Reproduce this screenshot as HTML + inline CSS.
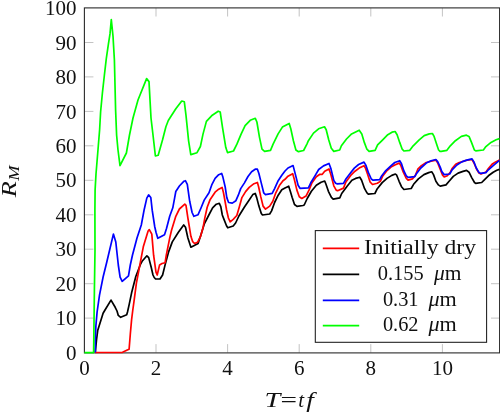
<!DOCTYPE html>
<html><head><meta charset="utf-8"><title>plot</title>
<style>
html,body{margin:0;padding:0;background:#fff;}
body{width:500px;height:413px;overflow:hidden;}
svg{display:block;will-change:transform;}
text{font-family:"Liberation Serif",serif;font-size:21px;fill:#111;}
.c{fill:none;stroke-width:1.7;stroke-linejoin:round;stroke-linecap:butt;}
</style></head><body>
<svg width="500" height="413" viewBox="0 0 500 413">
<rect width="500" height="413" fill="#fff"/>
<g stroke="#9a9a9a" stroke-width="0.6"><line x1="156.0" y1="352.6" x2="156.0" y2="344.1"/><line x1="156.0" y1="8" x2="156.0" y2="16.5"/><line x1="227.6" y1="352.6" x2="227.6" y2="344.1"/><line x1="227.6" y1="8" x2="227.6" y2="16.5"/><line x1="299.2" y1="352.6" x2="299.2" y2="344.1"/><line x1="299.2" y1="8" x2="299.2" y2="16.5"/><line x1="370.8" y1="352.6" x2="370.8" y2="344.1"/><line x1="370.8" y1="8" x2="370.8" y2="16.5"/><line x1="442.4" y1="352.6" x2="442.4" y2="344.1"/><line x1="442.4" y1="8" x2="442.4" y2="16.5"/><line x1="84.4" y1="318.1" x2="93.4" y2="318.1"/><line x1="499.5" y1="318.1" x2="491" y2="318.1"/><line x1="84.4" y1="283.7" x2="93.4" y2="283.7"/><line x1="499.5" y1="283.7" x2="491" y2="283.7"/><line x1="84.4" y1="249.2" x2="93.4" y2="249.2"/><line x1="499.5" y1="249.2" x2="491" y2="249.2"/><line x1="84.4" y1="214.8" x2="93.4" y2="214.8"/><line x1="499.5" y1="214.8" x2="491" y2="214.8"/><line x1="84.4" y1="180.3" x2="93.4" y2="180.3"/><line x1="499.5" y1="180.3" x2="491" y2="180.3"/><line x1="84.4" y1="145.8" x2="93.4" y2="145.8"/><line x1="499.5" y1="145.8" x2="491" y2="145.8"/><line x1="84.4" y1="111.4" x2="93.4" y2="111.4"/><line x1="499.5" y1="111.4" x2="491" y2="111.4"/><line x1="84.4" y1="76.9" x2="93.4" y2="76.9"/><line x1="499.5" y1="76.9" x2="491" y2="76.9"/><line x1="84.4" y1="42.5" x2="93.4" y2="42.5"/><line x1="499.5" y1="42.5" x2="491" y2="42.5"/></g>
<rect x="84.4" y="7.9" width="415.20000000000005" height="345.0" fill="none" stroke="#2a2a2a" stroke-width="1.1"/>
<g><text x="84.4" y="375.2" text-anchor="middle">0</text><text x="156.0" y="375.2" text-anchor="middle">2</text><text x="227.6" y="375.2" text-anchor="middle">4</text><text x="299.2" y="375.2" text-anchor="middle">6</text><text x="370.8" y="375.2" text-anchor="middle">8</text><text x="442.4" y="375.2" text-anchor="middle">10</text><text x="76.5" y="359.7" text-anchor="end">0</text><text x="76.5" y="325.2" text-anchor="end">10</text><text x="76.5" y="290.8" text-anchor="end">20</text><text x="76.5" y="256.3" text-anchor="end">30</text><text x="76.5" y="221.9" text-anchor="end">40</text><text x="76.5" y="187.4" text-anchor="end">50</text><text x="76.5" y="152.9" text-anchor="end">60</text><text x="76.5" y="118.5" text-anchor="end">70</text><text x="76.5" y="84.0" text-anchor="end">80</text><text x="76.5" y="49.6" text-anchor="end">90</text><text x="76.5" y="15.1" text-anchor="end">100</text></g>
<polyline class="c" stroke="#000000" points="95.3,352.4 96.5,340 97.7,330.6 103.1,313.2 105,310 111,300.1 115.2,307.3 117,311 118.3,315.4 120.7,317.3 126.7,314.8 127.5,312 129.1,304.9 131.6,292.8 135.8,276.5 140.6,264 142.1,261.3 146.9,255.8 148.7,257.6 151.2,267.3 153,275 154.2,277.5 155.6,279 160,279 162.6,275 165.1,264.9 168.7,251.6 172.3,241.9 178.4,232.3 183.7,224.9 185.5,227.3 187.9,238 190.9,247.2 198.1,243.5 201.2,233.9 204.2,224.2 208.6,215.5 212.6,207.8 216.3,204.2 219.3,203.3 220.8,206.7 222.3,215 223.5,218.1 226.6,226 227.8,227.8 233.2,226 235.6,223 238.9,216 244.3,207.3 249.2,200.1 252.8,194.6 255.2,193.4 256.7,197.6 258.9,206.1 261.3,213.4 262.5,215 269.7,214 271.6,210.9 274.6,202.5 278.2,195.2 281.8,189.8 285,188 288.7,186.2 290.3,191.3 292.1,197.3 294.5,204.5 297,206.4 303,205.5 304.2,205 307.2,198.5 311.4,191.3 316.3,185.2 321.1,182.2 324.7,181 325.9,184 328.4,191.3 331.4,197.3 333.2,199.1 339.8,197.9 341.7,193.5 347.1,186.3 351.9,180.2 355.6,178.4 359.8,177.2 361.6,180.2 364.6,188.7 367,192.9 368.3,194.1 374.9,193.5 377.3,188.7 382.2,182.6 387,178.4 391.8,175.4 395.4,174 396.7,175.2 399.1,181.3 401.5,186.7 403.9,189.5 411.2,188.5 413.6,184.3 418.4,178.9 423.9,174.6 428.7,172.6 431.7,171.8 433.5,174.6 435.9,181.3 438.4,184.9 440.2,186.1 446,184.9 449.1,181.3 453.3,176.4 458.1,173.1 463,171.4 466.6,170.4 469,172.2 471.7,177.6 474.5,182.5 475.7,183.4 481.7,182.5 484.1,180.1 488.4,175.8 493.2,172.2 496.8,170.2 499.5,169.4"/>
<polyline class="c" stroke="#ff0000" points="95,352.5 122.5,352.3 127.3,350 129.1,349.3 130.3,334.2 131.6,319.7 132.8,310 134,301.3 136.4,283.1 138.9,270 143.3,246.8 148.1,231 149.3,229.6 151.8,234.1 153.6,255.2 156,272.2 157.2,275 159.6,264.9 162,263.5 165.1,262.7 166.3,255.2 169.9,237.1 171.6,230 175.8,216.3 179.4,209 184.8,204.2 186,205.4 187.9,218.1 190.9,236.3 192.7,241.7 194.5,243.5 197.5,242.3 200.6,236.3 203,227.8 204.8,218.1 207.2,207.3 210.2,199.4 215.1,192.2 218.7,189.2 222.1,187.4 223.5,192.8 225,201 226.6,210 228.4,218 230.2,221.8 233.2,219.3 236.8,215.5 239.3,207 241.9,197.6 245.6,191.6 249.2,187.4 254,183.7 257.4,182.5 258.6,186.8 260.7,196.4 263.1,206.1 265.5,209.1 269.7,206.1 272.8,201.3 275.8,192.8 279.4,185.6 283,180.7 285,179.3 288,176.2 292.7,173.7 294.3,179.2 296.9,190.1 299.3,196.7 301.8,198.5 306,196.1 309,190.1 312,182.8 316.3,176.8 319.9,174.3 322.3,174.3 324.7,171.3 329,168.9 330.8,174.3 333.8,185.8 336.2,190.1 337.6,190.7 343.5,188.1 345.9,182 350.7,175.4 355,171.2 359.2,168.1 364,165.7 365.5,168.1 367.6,174.2 370.1,182 372.5,184.5 377.3,183.3 380.3,181.4 382.8,176 387,170.6 391,167 394.8,165 399.1,163.1 400.9,165.6 403.3,172.2 406.3,178.3 408.1,180.1 412.4,178.9 415.4,175.2 417.8,169.2 421.4,165.6 426.3,162.5 431.1,161.3 435.9,160.1 437.8,163.1 440.2,169.2 442.6,175.2 444.2,177 447.3,175.8 450.3,172.2 452.1,168.6 455.7,164.3 459.3,162.5 466,160.5 472,159.5 474,163 476.5,169 479,173 481,174 486,172 488.4,168.6 492,164.3 495.6,161.9 499.5,160.1"/>
<polyline class="c" stroke="#0000ff" points="95.3,352.6 95.3,340 95.9,325.7 97.1,312 99.5,295.2 103.1,277 106.8,262 113.4,234.1 115.8,242 118.3,265 120.1,277.1 122.2,281.3 128.5,275.9 130.3,265 132.5,255 137,238 141.3,225 144,210.5 146.8,198.1 148.6,194.9 150.8,197.5 152.2,210.2 154.7,226.5 156,232.3 157.8,238.3 164.5,234.7 166.5,228.5 169.7,216.3 172.8,207.8 174.6,198.1 175.8,191.5 179.4,186 184,181.2 185.4,180.7 187.3,184.3 189.7,201.3 192.1,212.5 193.9,216.3 198.1,214.7 201.2,207.5 204.2,200.1 209,192.8 212,184.3 215.1,178.3 218.7,174.7 221.7,173.5 222.9,177.1 225.2,187 226.8,197.6 228.6,202.5 232.3,203.1 235.9,200.7 238.3,195.2 240.7,188.6 244.3,183.1 248,176.5 251.6,171.7 255.2,169.2 257.4,169.2 258.9,173.5 261.3,183.1 263.7,192.8 265.5,194.6 272.2,193.4 274.6,188.6 278.2,180.7 281.8,175.3 285,171 288,168 293.1,165.6 295.7,175.6 298.1,185.2 300,188.3 308.4,187.9 310.8,182.8 315.1,175.6 318.7,169.5 323.5,165.9 329,163.5 330.8,168.3 333.8,180.4 335.6,183.2 337.4,183.9 343.5,183.3 345.9,179 349.5,174.2 354.3,168.1 358.6,164.5 364,162.1 365.8,165.1 368.3,172.4 371.3,179 373.1,180.2 379.7,179.6 381.6,176 385.8,170.6 390.6,166.2 394.8,162.5 399.7,160.7 401.5,163.7 403.9,171 406.3,175.8 408.1,177.4 414.8,176.7 416.6,173.4 420.8,168 426.3,163.1 431.1,160.7 435.9,159.5 437.8,161.9 440.2,167 441.8,171.6 444.2,174.6 449.7,174 452.1,169.8 456.9,165 461.8,161.9 466.6,160.1 472,158.9 473.9,161.9 476.3,168 478.7,172.2 480.5,173.4 485.9,172.6 488.4,169.8 493.2,165.6 499.5,160.3"/>
<polyline class="c" stroke="#00ff00" points="84.4,352.6 93.6,352.6 93.8,340.0 94.4,290.0 95.0,250.0 94.9,210.0 95.1,190.0 96.0,174.0 98.3,146.0 99.6,130.0 100.6,112.0 102.4,93.0 104.4,75.0 106.3,58.6 108.4,44.1 110.0,33.9 111.3,19.6 113.0,36.0 114.4,60.0 115.6,110.0 116.6,135.0 118.0,150.0 120.0,165.6 126.4,153.0 129.5,135.0 133.0,118.0 138.0,100.0 146.6,78.6 149.0,81.6 151.0,118.0 153.0,135.0 155.4,156.0 158.2,155.3 162.5,140.0 165.9,126.7 168.3,120.5 171.0,116.2 176.0,108.5 181.0,101.9 181.8,101 184.3,101.7 186,115.4 188.6,140.8 190.8,154.6 197,152.7 200.4,146.5 203,134.1 206.4,121.4 212.3,115.2 218.2,111.2 220.2,112 222.5,127.3 225.8,147.6 227.5,152.6 233.5,151 236.9,144.2 241.1,134.1 245.1,125.6 250.2,120.3 255.3,118.3 256.9,122 259.5,137.3 262,149.2 264.6,151.4 270.5,150.3 273.1,144.1 278.1,133.9 282.4,127.1 289.2,123.4 290.8,128.8 293.4,140.7 295.9,150 298.5,151.7 303.6,150.5 306.9,144.1 308.4,140.7 313.5,133.1 318.6,128.8 324.5,126.8 326.2,129.7 328.7,139.8 331.3,148.3 333.8,151.4 339.7,150 341.4,145.8 346.5,139 351.6,133.9 359.2,130.2 361.8,133.9 364.3,142.4 366.9,149.2 369.1,151.4 375.1,150.3 377.6,144.9 382.7,139.8 387.8,134.7 392,132.2 395.1,131.5 397.1,134.7 399.7,142.4 402.2,149.2 403.9,151 409.8,150.3 413.2,145.8 419.2,139.8 424.2,135.6 429.3,133.9 432.4,133.5 434.1,136.4 436.9,144.9 438.6,150 440,151.3 441.2,151.4 446.9,150.3 450.3,145.8 455.4,140.7 461.4,136.4 466.4,135.2 469,136.4 471.5,142.4 474.4,150 475.8,150.9 483.4,150 485.9,146.6 491,142.4 496.1,139.8 499.5,138.6"/>
<rect x="315.3" y="230.6" width="171.3" height="111.7" fill="#fff" stroke="#1a1a1a" stroke-width="1.05"/>
<g class="c">
<line x1="322.8" y1="248.3" x2="359.2" y2="248.3" stroke="#ff0000"/>
<line x1="322.8" y1="274.3" x2="359.2" y2="274.3" stroke="#000"/>
<line x1="322.8" y1="300.3" x2="359.2" y2="300.3" stroke="#0000ff"/>
<line x1="322.8" y1="325.6" x2="359.2" y2="325.6" stroke="#00ff00"/>
</g>
<text x="364" y="254.3" textLength="112" lengthAdjust="spacingAndGlyphs">Initially dry</text>
<text x="377.7" y="280" textLength="46" lengthAdjust="spacingAndGlyphs">0.155</text><text x="434.1" y="280" textLength="27.5" lengthAdjust="spacingAndGlyphs"><tspan font-style="italic">μ</tspan>m</text>
<text x="382.9" y="306" textLength="35.6" lengthAdjust="spacingAndGlyphs">0.31</text><text x="428.4" y="306" textLength="28.3" lengthAdjust="spacingAndGlyphs"><tspan font-style="italic">μ</tspan>m</text>
<text x="382.9" y="331" textLength="35.6" lengthAdjust="spacingAndGlyphs">0.62</text><text x="428.4" y="331" textLength="28.3" lengthAdjust="spacingAndGlyphs"><tspan font-style="italic">μ</tspan>m</text>
<text x="264.6" y="406.9" font-style="italic" font-size="21.5" textLength="15.8" lengthAdjust="spacingAndGlyphs">T</text><text x="280.4" y="406.9" textLength="16.5" lengthAdjust="spacingAndGlyphs">=</text><text x="298.3" y="406.9" font-style="italic">t</text><text x="306.3" y="406.9" font-style="italic" textLength="7.6" lengthAdjust="spacingAndGlyphs">f</text>
<text transform="translate(16,197.2) rotate(-90) scale(1.22,1)" font-style="italic"><tspan font-size="21.5">R</tspan><tspan font-size="15" dy="2.8" dx="0.3">M</tspan></text>
</svg>
</body></html>
